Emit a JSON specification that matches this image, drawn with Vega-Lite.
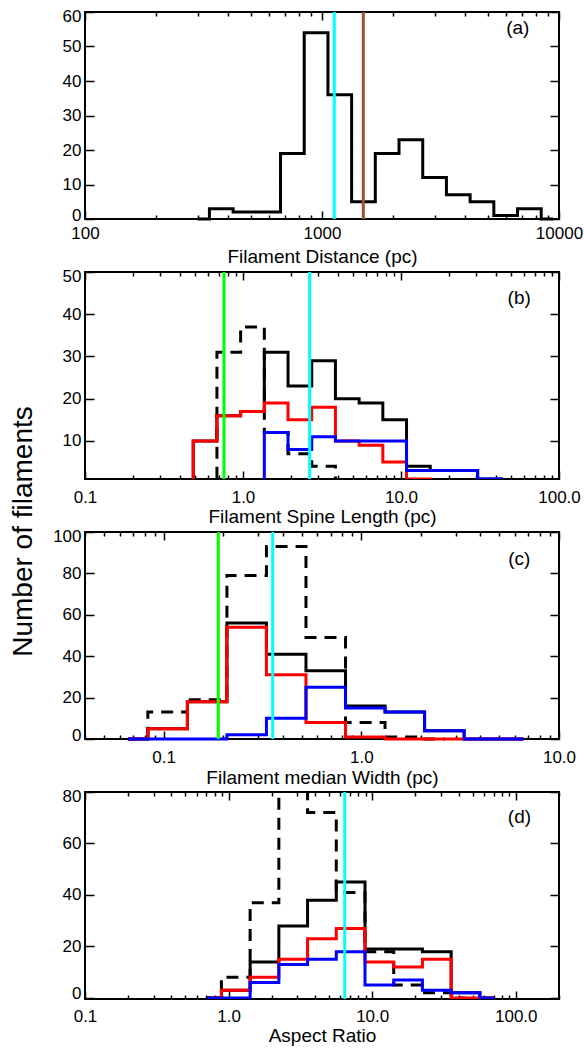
{
  "$schema": "https://vega.github.io/schema/vega-lite/v6.json",
  "background": "white",
  "padding": {"left": 7, "top": 6, "right": 0, "bottom": 0},
  "spacing": 53,
  "bounds": "flush",
  "config": {
    "font": "Liberation Sans",
    "view": {"stroke": "black", "strokeWidth": 2},
    "axis": {
      "grid": false, "domain": false, "ticks": true, "tickColor": "black", "tickWidth": 1.5,
      "labelFont": "Liberation Sans", "labelFontSize": 17, "labelColor": "black",
      "titleFont": "Liberation Sans", "titleFontSize": 19, "titleFontWeight": "normal", "titleColor": "black",
      "labelOverlap": false, "labelFlush": false, "labelBound": false
    }
  },
  "datasets": {
    "a": [
      {"s": "total", "x": 298.5, "n": 0}, {"s": "total", "x": 375.8, "n": 3}, {"s": "total", "x": 473.2, "n": 2},
      {"s": "total", "x": 595.7, "n": 2}, {"s": "total", "x": 749.9, "n": 19}, {"s": "total", "x": 944.1, "n": 54},
      {"s": "total", "x": 1188.5, "n": 36}, {"s": "total", "x": 1496.2, "n": 5}, {"s": "total", "x": 1883.6, "n": 19},
      {"s": "total", "x": 2371.4, "n": 23}, {"s": "total", "x": 2985.4, "n": 12}, {"s": "total", "x": 3758.4, "n": 7},
      {"s": "total", "x": 4731.5, "n": 5}, {"s": "total", "x": 5956.6, "n": 1}, {"s": "total", "x": 7498.9, "n": 3},
      {"s": "total", "x": 9440.6, "n": 0}
    ],
    "b": [
      {"s": "dashed", "x": 0.4074, "n": 0}, {"s": "dashed", "x": 0.5754, "n": 0}, {"s": "dashed", "x": 0.8128, "n": 31},
      {"s": "dashed", "x": 1.1482, "n": 37}, {"s": "dashed", "x": 1.6218, "n": 12}, {"s": "dashed", "x": 2.2909, "n": 7},
      {"s": "dashed", "x": 3.2359, "n": 4}, {"s": "dashed", "x": 4.5709, "n": 0}, {"s": "dashed", "x": 6.4565, "n": 0},
      {"s": "total", "x": 0.4074, "n": 0}, {"s": "total", "x": 0.5754, "n": 10}, {"s": "total", "x": 0.8128, "n": 16},
      {"s": "total", "x": 1.1482, "n": 17}, {"s": "total", "x": 1.6218, "n": 31}, {"s": "total", "x": 2.2909, "n": 23},
      {"s": "total", "x": 3.2359, "n": 29}, {"s": "total", "x": 4.5709, "n": 20}, {"s": "total", "x": 6.4565, "n": 19},
      {"s": "total", "x": 9.1201, "n": 15}, {"s": "total", "x": 12.882, "n": 4}, {"s": "total", "x": 18.197, "n": 3},
      {"s": "total", "x": 25.704, "n": 3}, {"s": "total", "x": 36.308, "n": 1}, {"s": "total", "x": 51.286, "n": 0},
      {"s": "red", "x": 0.4074, "n": 0}, {"s": "red", "x": 0.5754, "n": 10}, {"s": "red", "x": 0.8128, "n": 16},
      {"s": "red", "x": 1.1482, "n": 17}, {"s": "red", "x": 1.6218, "n": 19}, {"s": "red", "x": 2.2909, "n": 15},
      {"s": "red", "x": 3.2359, "n": 18}, {"s": "red", "x": 4.5709, "n": 10}, {"s": "red", "x": 6.4565, "n": 9},
      {"s": "red", "x": 9.1201, "n": 5}, {"s": "red", "x": 12.882, "n": 1}, {"s": "red", "x": 18.197, "n": 0},
      {"s": "blue", "x": 1.1482, "n": 0}, {"s": "blue", "x": 1.6218, "n": 12}, {"s": "blue", "x": 2.2909, "n": 8},
      {"s": "blue", "x": 3.2359, "n": 11}, {"s": "blue", "x": 4.5709, "n": 10}, {"s": "blue", "x": 6.4565, "n": 10},
      {"s": "blue", "x": 9.1201, "n": 10}, {"s": "blue", "x": 12.882, "n": 3}, {"s": "blue", "x": 18.197, "n": 3},
      {"s": "blue", "x": 25.704, "n": 3}, {"s": "blue", "x": 36.308, "n": 1}, {"s": "blue", "x": 51.286, "n": 0}
    ],
    "c": [
      {"s": "dashed", "x": 0.06607, "n": 0}, {"s": "dashed", "x": 0.10471, "n": 13}, {"s": "dashed", "x": 0.16596, "n": 19},
      {"s": "dashed", "x": 0.26303, "n": 79}, {"s": "dashed", "x": 0.41687, "n": 93}, {"s": "dashed", "x": 0.66069, "n": 49},
      {"s": "dashed", "x": 1.04713, "n": 8}, {"s": "dashed", "x": 1.65959, "n": 1}, {"s": "dashed", "x": 2.63027, "n": 0},
      {"s": "total", "x": 0.06607, "n": 0}, {"s": "total", "x": 0.10471, "n": 5}, {"s": "total", "x": 0.16596, "n": 18},
      {"s": "total", "x": 0.26303, "n": 56}, {"s": "total", "x": 0.41687, "n": 41}, {"s": "total", "x": 0.66069, "n": 33},
      {"s": "total", "x": 1.04713, "n": 16}, {"s": "total", "x": 1.65959, "n": 13}, {"s": "total", "x": 2.63027, "n": 4},
      {"s": "total", "x": 4.16869, "n": 0}, {"s": "total", "x": 6.60693, "n": 0},
      {"s": "red", "x": 0.06607, "n": 0}, {"s": "red", "x": 0.10471, "n": 5}, {"s": "red", "x": 0.16596, "n": 18},
      {"s": "red", "x": 0.26303, "n": 54}, {"s": "red", "x": 0.41687, "n": 31}, {"s": "red", "x": 0.66069, "n": 8},
      {"s": "red", "x": 1.04713, "n": 1}, {"s": "red", "x": 1.65959, "n": 0}, {"s": "red", "x": 2.63027, "n": 0},
      {"s": "red", "x": 4.16869, "n": 0}, {"s": "red", "x": 6.60693, "n": 0},
      {"s": "blue", "x": 0.06607, "n": 0}, {"s": "blue", "x": 0.10471, "n": 0}, {"s": "blue", "x": 0.16596, "n": 0},
      {"s": "blue", "x": 0.26303, "n": 2}, {"s": "blue", "x": 0.41687, "n": 10}, {"s": "blue", "x": 0.66069, "n": 25},
      {"s": "blue", "x": 1.04713, "n": 15}, {"s": "blue", "x": 1.65959, "n": 13}, {"s": "blue", "x": 2.63027, "n": 4},
      {"s": "blue", "x": 4.16869, "n": 0}, {"s": "blue", "x": 6.60693, "n": 0}
    ],
    "d": [
      {"s": "dashed", "x": 0.70795, "n": 0}, {"s": "dashed", "x": 1.12202, "n": 8}, {"s": "dashed", "x": 1.77828, "n": 37},
      {"s": "dashed", "x": 2.81838, "n": 95}, {"s": "dashed", "x": 4.46684, "n": 72}, {"s": "dashed", "x": 7.07946, "n": 41},
      {"s": "dashed", "x": 11.2202, "n": 18}, {"s": "dashed", "x": 17.7828, "n": 5}, {"s": "dashed", "x": 28.1838, "n": 2},
      {"s": "dashed", "x": 44.6684, "n": 0},
      {"s": "total", "x": 0.70795, "n": 0}, {"s": "total", "x": 1.12202, "n": 3}, {"s": "total", "x": 1.77828, "n": 14},
      {"s": "total", "x": 2.81838, "n": 28}, {"s": "total", "x": 4.46684, "n": 38}, {"s": "total", "x": 7.07946, "n": 45},
      {"s": "total", "x": 11.2202, "n": 19}, {"s": "total", "x": 17.7828, "n": 19}, {"s": "total", "x": 28.1838, "n": 18},
      {"s": "total", "x": 44.6684, "n": 2}, {"s": "total", "x": 70.7946, "n": 0},
      {"s": "red", "x": 0.70795, "n": 0}, {"s": "red", "x": 1.12202, "n": 3}, {"s": "red", "x": 1.77828, "n": 8},
      {"s": "red", "x": 2.81838, "n": 15}, {"s": "red", "x": 4.46684, "n": 23}, {"s": "red", "x": 7.07946, "n": 27},
      {"s": "red", "x": 11.2202, "n": 14}, {"s": "red", "x": 17.7828, "n": 12}, {"s": "red", "x": 28.1838, "n": 15},
      {"s": "red", "x": 44.6684, "n": 0}, {"s": "red", "x": 70.7946, "n": 0},
      {"s": "blue", "x": 0.70795, "n": 0}, {"s": "blue", "x": 1.12202, "n": 0}, {"s": "blue", "x": 1.77828, "n": 6},
      {"s": "blue", "x": 2.81838, "n": 13}, {"s": "blue", "x": 4.46684, "n": 15}, {"s": "blue", "x": 7.07946, "n": 18},
      {"s": "blue", "x": 11.2202, "n": 5}, {"s": "blue", "x": 17.7828, "n": 7}, {"s": "blue", "x": 28.1838, "n": 3},
      {"s": "blue", "x": 44.6684, "n": 2}, {"s": "blue", "x": 70.7946, "n": 0}
    ],
    "va": [{"x": 1127, "c": "#00ffff"}, {"x": 1494, "c": "#a0522d"}],
    "vb": [{"x": 0.758, "c": "#00ff00"}, {"x": 2.64, "c": "#00ffff"}],
    "vc": [{"x": 0.189, "c": "#00ff00"}, {"x": 0.356, "c": "#00ffff"}],
    "vd": [{"x": 6.44, "c": "#00ffff"}],
    "ta": [{"x": 6700, "n": 55.3, "t": "(a)"}],
    "tb": [{"x": 56, "n": 43.9, "t": "(b)"}],
    "tc": [{"x": 6.3, "n": 86.8, "t": "(c)"}],
    "td": [{"x": 106, "n": 70.4, "t": "(d)"}]
  },
  "vconcat": [
    {
      "width": 474, "height": 207,
      "resolve": {"axis": {"x": "independent", "y": "independent"}},
      "layer": [
        {
          "data": {"name": "a"},
          "transform": [{"filter": "datum.s == 'total'"}],
          "mark": {"type": "line", "interpolate": "step", "color": "black", "strokeWidth": 3, "strokeJoin": "miter"},
          "encoding": {
            "x": {"field": "x", "type": "quantitative", "scale": {"type": "log", "domain": [100, 10000], "nice": false},
              "axis": {"orient": "bottom", "values": [100,200,300,400,500,600,700,800,900,1000,2000,3000,4000,5000,6000,7000,8000,9000,10000],
                "tickSize": {"condition": {"test": "abs(log(datum.value)/LN10 - round(log(datum.value)/LN10)) < 0.01", "value": -8}, "value": -4},
                "labelExpr": "abs(log(datum.value)/LN10 - round(log(datum.value)/LN10)) < 0.01 ? format(datum.value, 'd') : ''",
                "labelPadding": 14, "title": "Filament Distance (pc)", "titleY": 43, "titleBaseline": "alphabetic"}},
            "y": {"field": "n", "type": "quantitative", "scale": {"domain": [0, 60], "nice": false, "zero": false},
              "axis": {"orient": "left", "values": [0,10,20,30,40,50,60], "tickSize": -9, "labelPadding": 13,
                "labelOffset": {"condition": [{"test": "datum.value == 60", "value": 4}, {"test": "datum.value == 0", "value": -4}], "value": 0}, "title": null}}
          }
        },
        {
          "data": {"name": "va"},
          "mark": {"type": "rule", "strokeWidth": 3},
          "encoding": {
            "x": {"field": "x", "type": "quantitative", "scale": {"type": "log", "domain": [100, 10000], "nice": false},
              "axis": {"orient": "top", "values": [100,200,300,400,500,600,700,800,900,1000,2000,3000,4000,5000,6000,7000,8000,9000,10000],
                "tickSize": {"condition": {"test": "abs(log(datum.value)/LN10 - round(log(datum.value)/LN10)) < 0.01", "value": -8}, "value": -4},
                "labels": false, "title": null}},
            "color": {"field": "c", "type": "nominal", "scale": null}
          }
        },
        {
          "data": {"name": "ta"},
          "mark": {"type": "text", "fontSize": 19, "align": "center", "baseline": "middle", "color": "black"},
          "encoding": {
            "x": {"field": "x", "type": "quantitative", "scale": {"type": "log", "domain": [100, 10000], "nice": false}, "axis": null},
            "y": {"field": "n", "type": "quantitative", "scale": {"domain": [0, 60], "nice": false, "zero": false},
              "axis": {"orient": "right", "values": [0,10,20,30,40,50,60], "tickSize": -9, "labels": false, "title": null}},
            "text": {"field": "t"}
          }
        }
      ]
    },
    {
      "width": 474, "height": 207,
      "resolve": {"axis": {"x": "independent", "y": "independent"}},
      "layer": [
        {
          "data": {"name": "b"},
          "transform": [{"filter": "datum.s == 'dashed'"}],
          "mark": {"type": "line", "interpolate": "step", "color": "black", "strokeWidth": 3, "strokeDash": [12, 8], "clip": true},
          "encoding": {
            "x": {"field": "x", "type": "quantitative", "scale": {"type": "log", "domain": [0.1, 100], "nice": false},
              "axis": {"orient": "bottom", "values": [0.1,0.2,0.3,0.4,0.5,0.6,0.7,0.8,0.9,1,2,3,4,5,6,7,8,9,10,20,30,40,50,60,70,80,90,100],
                "tickSize": {"condition": {"test": "abs(log(datum.value)/LN10 - round(log(datum.value)/LN10)) < 0.01", "value": -8}, "value": -4},
                "labelExpr": "abs(log(datum.value)/LN10 - round(log(datum.value)/LN10)) < 0.01 ? format(datum.value, '.1f') : ''",
                "labelPadding": 18, "title": "Filament Spine Length (pc)", "titleY": 43, "titleBaseline": "alphabetic"}},
            "y": {"field": "n", "type": "quantitative", "scale": {"domain": [1, 50], "nice": false, "zero": false},
              "axis": {"orient": "left", "values": [10,20,30,40,50], "tickSize": -9, "labelPadding": 13,
                "labelOffset": {"condition": [{"test": "datum.value == 50", "value": 4}], "value": 0}, "title": null}}
          }
        },
        {
          "data": {"name": "b"},
          "transform": [{"filter": "datum.s == 'total'"}],
          "mark": {"type": "line", "interpolate": "step", "color": "black", "strokeWidth": 3, "strokeJoin": "miter", "clip": true},
          "encoding": {
            "x": {"field": "x", "type": "quantitative", "scale": {"type": "log", "domain": [0.1, 100], "nice": false},
              "axis": {"orient": "top", "values": [0.1,0.2,0.3,0.4,0.5,0.6,0.7,0.8,0.9,1,2,3,4,5,6,7,8,9,10,20,30,40,50,60,70,80,90,100],
                "tickSize": {"condition": {"test": "abs(log(datum.value)/LN10 - round(log(datum.value)/LN10)) < 0.01", "value": -8}, "value": -4},
                "labels": false, "title": null}},
            "y": {"field": "n", "type": "quantitative", "scale": {"domain": [1, 50], "nice": false, "zero": false},
              "axis": {"orient": "right", "values": [10,20,30,40,50], "tickSize": -9, "labels": false, "title": null}}
          }
        },
        {
          "data": {"name": "b"},
          "transform": [{"filter": "datum.s == 'red'"}],
          "mark": {"type": "line", "interpolate": "step", "color": "#ff0000", "strokeWidth": 3, "strokeJoin": "miter", "clip": true},
          "encoding": {
            "x": {"field": "x", "type": "quantitative", "scale": {"type": "log", "domain": [0.1, 100], "nice": false}, "axis": null},
            "y": {"field": "n", "type": "quantitative", "scale": {"domain": [1, 50], "nice": false, "zero": false}, "axis": null}
          }
        },
        {
          "data": {"name": "b"},
          "transform": [{"filter": "datum.s == 'blue'"}],
          "mark": {"type": "line", "interpolate": "step", "color": "#0000ff", "strokeWidth": 3, "strokeJoin": "miter", "clip": true},
          "encoding": {
            "x": {"field": "x", "type": "quantitative", "scale": {"type": "log", "domain": [0.1, 100], "nice": false}, "axis": null},
            "y": {"field": "n", "type": "quantitative", "scale": {"domain": [1, 50], "nice": false, "zero": false}, "axis": null}
          }
        },
        {
          "data": {"name": "vb"},
          "mark": {"type": "rule", "strokeWidth": 3},
          "encoding": {
            "x": {"field": "x", "type": "quantitative", "scale": {"type": "log", "domain": [0.1, 100], "nice": false}, "axis": null},
            "color": {"field": "c", "type": "nominal", "scale": null}
          }
        },
        {
          "data": {"name": "tb"},
          "mark": {"type": "text", "fontSize": 19, "align": "center", "baseline": "middle", "color": "black"},
          "encoding": {
            "x": {"field": "x", "type": "quantitative", "scale": {"type": "log", "domain": [0.1, 100], "nice": false}, "axis": null},
            "y": {"field": "n", "type": "quantitative", "scale": {"domain": [1, 50], "nice": false, "zero": false}, "axis": null},
            "text": {"field": "t"}
          }
        }
      ]
    },
    {
      "width": 474, "height": 207,
      "resolve": {"axis": {"x": "independent", "y": "independent"}},
      "layer": [
        {
          "data": {"name": "c"},
          "transform": [{"filter": "datum.s == 'dashed'"}],
          "mark": {"type": "line", "interpolate": "step", "color": "black", "strokeWidth": 3, "strokeDash": [12, 8]},
          "encoding": {
            "x": {"field": "x", "type": "quantitative", "scale": {"type": "log", "domain": [0.04, 10], "nice": false},
              "axis": {"orient": "bottom", "values": [0.04,0.05,0.06,0.07,0.08,0.09,0.1,0.2,0.3,0.4,0.5,0.6,0.7,0.8,0.9,1,2,3,4,5,6,7,8,9,10],
                "tickSize": {"condition": {"test": "abs(log(datum.value)/LN10 - round(log(datum.value)/LN10)) < 0.01", "value": -8}, "value": -4},
                "labelExpr": "abs(log(datum.value)/LN10 - round(log(datum.value)/LN10)) < 0.01 ? format(datum.value, '.1f') : ''",
                "labelPadding": 18, "title": "Filament median Width (pc)", "titleY": 44, "titleBaseline": "alphabetic"}},
            "y": {"field": "n", "type": "quantitative", "scale": {"domain": [0, 100], "nice": false, "zero": false},
              "axis": {"orient": "left", "values": [0,20,40,60,80,100], "tickSize": -9, "labelPadding": 13,
                "labelOffset": {"condition": [{"test": "datum.value == 100", "value": 4}, {"test": "datum.value == 0", "value": -4}], "value": 0},
                "title": "Number of filaments", "titleFontSize": 28, "titleAngle": 270, "titleX": -54, "titleY": -1, "titleAlign": "center", "titleBaseline": "alphabetic"}}
          }
        },
        {
          "data": {"name": "c"},
          "transform": [{"filter": "datum.s == 'total'"}],
          "mark": {"type": "line", "interpolate": "step", "color": "black", "strokeWidth": 3, "strokeJoin": "miter"},
          "encoding": {
            "x": {"field": "x", "type": "quantitative", "scale": {"type": "log", "domain": [0.04, 10], "nice": false},
              "axis": {"orient": "top", "values": [0.04,0.05,0.06,0.07,0.08,0.09,0.1,0.2,0.3,0.4,0.5,0.6,0.7,0.8,0.9,1,2,3,4,5,6,7,8,9,10],
                "tickSize": {"condition": {"test": "abs(log(datum.value)/LN10 - round(log(datum.value)/LN10)) < 0.01", "value": -8}, "value": -4},
                "labels": false, "title": null}},
            "y": {"field": "n", "type": "quantitative", "scale": {"domain": [0, 100], "nice": false, "zero": false},
              "axis": {"orient": "right", "values": [0,20,40,60,80,100], "tickSize": -9, "labels": false, "title": null}}
          }
        },
        {
          "data": {"name": "c"},
          "transform": [{"filter": "datum.s == 'red'"}],
          "mark": {"type": "line", "interpolate": "step", "color": "#ff0000", "strokeWidth": 3, "strokeJoin": "miter"},
          "encoding": {
            "x": {"field": "x", "type": "quantitative", "scale": {"type": "log", "domain": [0.04, 10], "nice": false}, "axis": null},
            "y": {"field": "n", "type": "quantitative", "scale": {"domain": [0, 100], "nice": false, "zero": false}, "axis": null}
          }
        },
        {
          "data": {"name": "c"},
          "transform": [{"filter": "datum.s == 'blue'"}],
          "mark": {"type": "line", "interpolate": "step", "color": "#0000ff", "strokeWidth": 3, "strokeJoin": "miter"},
          "encoding": {
            "x": {"field": "x", "type": "quantitative", "scale": {"type": "log", "domain": [0.04, 10], "nice": false}, "axis": null},
            "y": {"field": "n", "type": "quantitative", "scale": {"domain": [0, 100], "nice": false, "zero": false}, "axis": null}
          }
        },
        {
          "data": {"name": "vc"},
          "mark": {"type": "rule", "strokeWidth": 3},
          "encoding": {
            "x": {"field": "x", "type": "quantitative", "scale": {"type": "log", "domain": [0.04, 10], "nice": false}, "axis": null},
            "color": {"field": "c", "type": "nominal", "scale": null}
          }
        },
        {
          "data": {"name": "tc"},
          "mark": {"type": "text", "fontSize": 19, "align": "center", "baseline": "middle", "color": "black"},
          "encoding": {
            "x": {"field": "x", "type": "quantitative", "scale": {"type": "log", "domain": [0.04, 10], "nice": false}, "axis": null},
            "y": {"field": "n", "type": "quantitative", "scale": {"domain": [0, 100], "nice": false, "zero": false}, "axis": null},
            "text": {"field": "t"}
          }
        }
      ]
    },
    {
      "width": 474, "height": 207,
      "resolve": {"axis": {"x": "independent", "y": "independent"}},
      "layer": [
        {
          "data": {"name": "d"},
          "transform": [{"filter": "datum.s == 'dashed'"}],
          "mark": {"type": "line", "interpolate": "step", "color": "black", "strokeWidth": 3, "strokeDash": [12, 8], "clip": true},
          "encoding": {
            "x": {"field": "x", "type": "quantitative", "scale": {"type": "log", "domain": [0.1, 200], "nice": false},
              "axis": {"orient": "bottom", "values": [0.1,0.2,0.3,0.4,0.5,0.6,0.7,0.8,0.9,1,2,3,4,5,6,7,8,9,10,20,30,40,50,60,70,80,90,100,200],
                "tickSize": {"condition": {"test": "abs(log(datum.value)/LN10 - round(log(datum.value)/LN10)) < 0.01", "value": -8}, "value": -4},
                "labelExpr": "abs(log(datum.value)/LN10 - round(log(datum.value)/LN10)) < 0.01 ? format(datum.value, '.1f') : ''",
                "labelPadding": 17, "title": "Aspect Ratio", "titleY": 42, "titleBaseline": "alphabetic"}},
            "y": {"field": "n", "type": "quantitative", "scale": {"domain": [-0.4, 80], "nice": false, "zero": false},
              "axis": {"orient": "left", "values": [0,20,40,60,80], "tickSize": -9, "labelPadding": 13,
                "labelOffset": {"condition": [{"test": "datum.value == 80", "value": 4}, {"test": "datum.value == 0", "value": -4}], "value": 0}, "title": null}}
          }
        },
        {
          "data": {"name": "d"},
          "transform": [{"filter": "datum.s == 'total'"}],
          "mark": {"type": "line", "interpolate": "step", "color": "black", "strokeWidth": 3, "strokeJoin": "miter", "clip": true},
          "encoding": {
            "x": {"field": "x", "type": "quantitative", "scale": {"type": "log", "domain": [0.1, 200], "nice": false},
              "axis": {"orient": "top", "values": [0.1,0.2,0.3,0.4,0.5,0.6,0.7,0.8,0.9,1,2,3,4,5,6,7,8,9,10,20,30,40,50,60,70,80,90,100,200],
                "tickSize": {"condition": {"test": "abs(log(datum.value)/LN10 - round(log(datum.value)/LN10)) < 0.01", "value": -8}, "value": -4},
                "labels": false, "title": null}},
            "y": {"field": "n", "type": "quantitative", "scale": {"domain": [-0.4, 80], "nice": false, "zero": false},
              "axis": {"orient": "right", "values": [0,20,40,60,80], "tickSize": -9, "labels": false, "title": null}}
          }
        },
        {
          "data": {"name": "d"},
          "transform": [{"filter": "datum.s == 'red'"}],
          "mark": {"type": "line", "interpolate": "step", "color": "#ff0000", "strokeWidth": 3, "strokeJoin": "miter", "clip": true},
          "encoding": {
            "x": {"field": "x", "type": "quantitative", "scale": {"type": "log", "domain": [0.1, 200], "nice": false}, "axis": null},
            "y": {"field": "n", "type": "quantitative", "scale": {"domain": [-0.4, 80], "nice": false, "zero": false}, "axis": null}
          }
        },
        {
          "data": {"name": "d"},
          "transform": [{"filter": "datum.s == 'blue'"}],
          "mark": {"type": "line", "interpolate": "step", "color": "#0000ff", "strokeWidth": 3, "strokeJoin": "miter", "clip": true},
          "encoding": {
            "x": {"field": "x", "type": "quantitative", "scale": {"type": "log", "domain": [0.1, 200], "nice": false}, "axis": null},
            "y": {"field": "n", "type": "quantitative", "scale": {"domain": [-0.4, 80], "nice": false, "zero": false}, "axis": null}
          }
        },
        {
          "data": {"name": "vd"},
          "mark": {"type": "rule", "strokeWidth": 3},
          "encoding": {
            "x": {"field": "x", "type": "quantitative", "scale": {"type": "log", "domain": [0.1, 200], "nice": false}, "axis": null},
            "color": {"field": "c", "type": "nominal", "scale": null}
          }
        },
        {
          "data": {"name": "td"},
          "mark": {"type": "text", "fontSize": 19, "align": "center", "baseline": "middle", "color": "black"},
          "encoding": {
            "x": {"field": "x", "type": "quantitative", "scale": {"type": "log", "domain": [0.1, 200], "nice": false}, "axis": null},
            "y": {"field": "n", "type": "quantitative", "scale": {"domain": [-0.4, 80], "nice": false, "zero": false}, "axis": null},
            "text": {"field": "t"}
          }
        }
      ]
    }
  ]
}
